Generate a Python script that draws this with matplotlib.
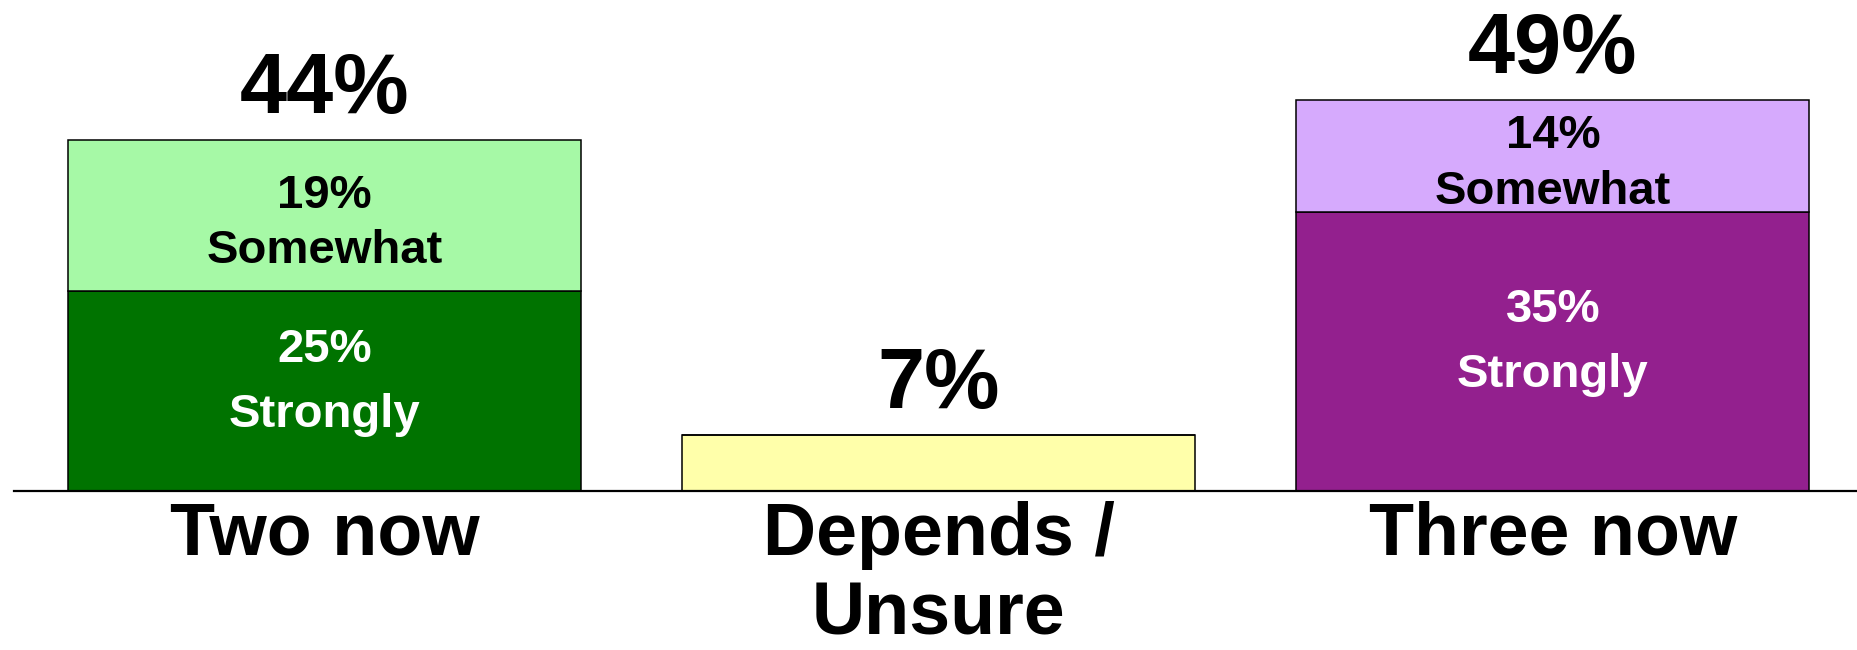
import matplotlib
matplotlib.use("Agg")
import matplotlib.pyplot as plt

categories = ["Two now", "Depends /\nUnsure", "Three now"]
strongly = [25, 7, 35]
somewhat = [19, 0, 14]
totals = [44, 7, 49]
strong_labels = ["25%\nStrongly", "", "35%\nStrongly"]
some_labels = ["19%\nSomewhat", "", "14%\nSomewhat"]
total_labels = ["44%", "7%", "49%"]

strong_colors = ["#007300", "#FFFFAA", "#93208E"]
some_colors = ["#A6F9A6", "#FFFFAA", "#D6AAFD"]
strong_text_colors = ["white", "black", "white"]

font = "Liberation Sans"

fig = plt.figure(figsize=(18.58, 6.5), dpi=100)
ax = fig.add_axes([14 / 1858, (650 - 491) / 650, 1844 / 1858, 491 / 650])

x = list(range(len(categories)))
width = 0.835
ax.bar(x, strongly, width=width, color=strong_colors, edgecolor="black", linewidth=1.1, zorder=2)
ax.bar(x, somewhat, width=width, bottom=strongly, color=some_colors, edgecolor="black", linewidth=1.1, zorder=2)

for i in x:
    if strong_labels[i]:
        ax.annotate(strong_labels[i], (i, strongly[i] / 2), xytext=(0, -25.5),
                    textcoords="offset points", ha="center", va="baseline",
                    fontsize=34, fontweight="bold", family=font,
                    color=strong_text_colors[i], linespacing=1.62, zorder=3)
    if some_labels[i]:
        ax.annotate(some_labels[i], (i, strongly[i] + somewhat[i] / 2), xytext=(0, -34.5),
                    textcoords="offset points", ha="center", va="baseline",
                    fontsize=34, fontweight="bold", family=font,
                    color="black", linespacing=1.34, zorder=3)
    ax.annotate(total_labels[i], (i, totals[i]), xytext=(0, 19.5), textcoords="offset points",
                ha="center", va="baseline", fontsize=61, fontweight="bold",
                family=font, color="black", zorder=3)

ax.set_xlim(-0.506, 2.497)
ax.set_ylim(0, 61.5)
ax.set_xticks(x)
ax.set_xticklabels(categories, fontsize=53, fontweight="bold", family=font, linespacing=1.2)
ax.tick_params(axis="x", length=0, pad=7)
ax.set_yticks([])
for s in ["top", "left", "right"]:
    ax.spines[s].set_visible(False)
ax.spines["bottom"].set_linewidth(1.6)
ax.spines["bottom"].set_color("black")
ax.set_facecolor("white")
fig.patch.set_facecolor("white")

fig.savefig("out.png", dpi=100)
